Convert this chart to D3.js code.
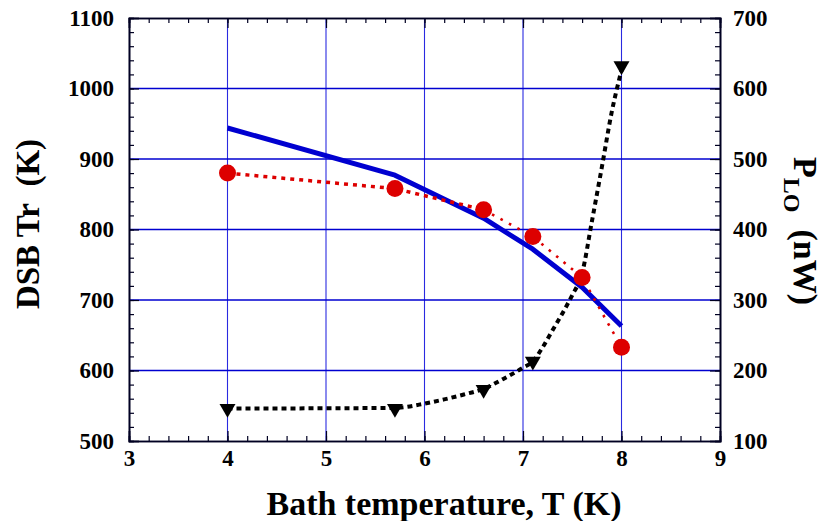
<!DOCTYPE html>
<html>
<head>
<meta charset="utf-8">
<script src="https://cdn.jsdelivr.net/npm/d3@7"></script>
</head>
<body style="margin:0">
<svg id="chart" width="823" height="521" style="display:block"></svg>
<script>
// ---- data ----
const xTicks = [3, 4, 5, 6, 7, 8, 9];
const leftTicks = [500, 600, 700, 800, 900, 1000, 1100];
const rightTicks = [100, 200, 300, 400, 500, 600, 700];
const gridX = [4, 5, 6, 7, 8];
const gridY = [600, 700, 800, 900, 1000];

// DSB Tr model (blue solid line), left axis
const modelT  = [4.0, 5.7, 6.6, 7.1, 7.6, 8.0];
const modelTr = [944, 877, 816, 772, 718, 663];

// DSB Tr measured (red circles, dotted), left axis
const measT  = [4.0, 5.7, 6.6, 7.1, 7.6, 8.0];
const measTr = [880, 858, 828, 790, 732, 633];

// P_LO (black triangles), right axis
const ploT = [4.0, 5.7, 6.6, 7.1, 8.0];
const ploP = [146, 146, 173, 213, 632];

// P_LO fitted curve (black dotted), right axis
const ploFitT = [4.0, 5.7, 6.0, 6.2, 6.4, 6.6, 6.8, 7.0, 7.1, 7.2, 7.3, 7.4, 7.5, 7.6, 7.7, 7.8, 7.9, 8.0];
const ploFitP = [146, 147, 153, 159, 166, 174, 188, 204, 213, 233, 257, 281, 307, 338, 412, 488, 566, 626];

// ---- layout ----
const FONT = '"Times New Roman"';
const svg = d3.select("#chart");
const L = 129, R = 720, T = 18, B = 441;

const x = d3.scaleLinear().domain([3, 9]).range([L, R]);
const yL = d3.scaleLinear().domain([500, 1100]).range([B, T]);
const yR = d3.scaleLinear().domain([100, 700]).range([B, T]);

const gridColor = "#0000d0";
const axisColor = "#000022";

// gridlines
svg.append("g").selectAll("line").data(gridX).join("line")
  .attr("x1", d => x(d)).attr("x2", d => x(d))
  .attr("y1", T).attr("y2", B)
  .attr("stroke", "#2a2ae0").attr("stroke-width", 1.1);
svg.append("g").selectAll("line").data(gridY).join("line")
  .attr("x1", L).attr("x2", R)
  .attr("y1", d => yL(d)).attr("y2", d => yL(d))
  .attr("stroke", gridColor).attr("stroke-width", 1.4);

// axes (ticks inward)
function styleAxis(g) {
  g.attr("font-family", null).attr("font-size", null);
  g.select(".domain").attr("stroke", axisColor).attr("stroke-width", 1.6);
  g.selectAll(".tick line").attr("stroke", axisColor).attr("stroke-width", 1.2);
  g.selectAll("text")
    .style("font-family", FONT).style("font-weight", "bold")
    .style("font-size", "23px").attr("fill", "#000");
}
const minorX = d3.range(3, 9.001, 0.2);
const minorY = d3.range(500, 1100.1, 20);
const minorYR = d3.range(100, 700.1, 20);

// bottom
svg.append("g").attr("transform", `translate(0,${B})`)
  .call(d3.axisBottom(x).tickValues(minorX).tickSize(-5).tickFormat(""))
  .call(styleAxis);
svg.append("g").attr("transform", `translate(0,${B})`)
  .call(d3.axisBottom(x).tickValues(xTicks).tickSize(-10).tickPadding(9).tickFormat(d3.format("d")))
  .call(styleAxis);
// top
svg.append("g").attr("transform", `translate(0,${T})`)
  .call(d3.axisTop(x).tickValues(minorX).tickSize(-5).tickFormat(""))
  .call(styleAxis);
svg.append("g").attr("transform", `translate(0,${T})`)
  .call(d3.axisTop(x).tickValues(xTicks).tickSize(-10).tickFormat(""))
  .call(styleAxis);
// left
svg.append("g").attr("transform", `translate(${L},0)`)
  .call(d3.axisLeft(yL).tickValues(minorY).tickSize(-5).tickFormat(""))
  .call(styleAxis);
svg.append("g").attr("transform", `translate(${L},0)`)
  .call(d3.axisLeft(yL).tickValues(leftTicks).tickSize(-10).tickPadding(15).tickFormat(d3.format("d")))
  .call(styleAxis);
// right
svg.append("g").attr("transform", `translate(${R},0)`)
  .call(d3.axisRight(yR).tickValues(minorYR).tickSize(-5).tickFormat(""))
  .call(styleAxis);
svg.append("g").attr("transform", `translate(${R},0)`)
  .call(d3.axisRight(yR).tickValues(rightTicks).tickSize(-10).tickPadding(13).tickFormat(d3.format("d")))
  .call(styleAxis);

// blue model line
const blueLine = d3.line().x((d, i) => x(modelT[i])).y(d => yL(d));
svg.append("path").datum(modelTr)
  .attr("d", blueLine).attr("fill", "none")
  .attr("stroke", "#0000d0").attr("stroke-width", 5).attr("stroke-linejoin", "round");

// red measured dotted line (two segments with different dot sizes)
const redLine = d3.line().x(d => x(d[0])).y(d => yL(d[1]));
const redPts = measT.map((t, i) => [t, measTr[i]]);
svg.append("path").datum(redPts.slice(0, 3))
  .attr("d", redLine).attr("fill", "none")
  .attr("stroke", "#dd0000").attr("stroke-width", 3.5).attr("stroke-dasharray", "4,5");
svg.append("path").datum(redPts.slice(2))
  .attr("d", redLine).attr("fill", "none")
  .attr("stroke", "#dd0000").attr("stroke-width", 2.6).attr("stroke-dasharray", "2.6,7");

// black P_LO fit curve
const blackLine = d3.line().x((d, i) => x(ploFitT[i])).y(d => yR(d)).curve(d3.curveMonotoneX);
svg.append("path").datum(ploFitP)
  .attr("d", blackLine).attr("fill", "none")
  .attr("stroke", "#000").attr("stroke-width", 4).attr("stroke-dasharray", "5,4");

// triangles
const tri = d3.symbol().type(d3.symbolTriangle).size(110);
svg.append("g").selectAll("path").data(ploP).join("path")
  .attr("d", tri)
  .attr("transform", (d, i) => `translate(${x(ploT[i])},${yR(d)}) rotate(180)`)
  .attr("fill", "#000");

// red circles
svg.append("g").selectAll("circle").data(measTr).join("circle")
  .attr("cx", (d, i) => x(measT[i])).attr("cy", d => yL(d))
  .attr("r", 8.5).attr("fill", "#dd0000");

// axis titles
function titleStyle(sel, size) {
  return sel.style("font-family", FONT).style("font-weight", "bold")
    .style("font-size", size + "px").attr("fill", "#000");
}
svg.append("text")
  .attr("x", 444).attr("y", 515)
  .attr("text-anchor", "middle")
  .call(titleStyle, 34)
  .text("Bath temperature, T (K)");

svg.append("text")
  .attr("transform", `translate(39,224) rotate(-90)`)
  .attr("text-anchor", "middle")
  .call(titleStyle, 33)
  .text("DSB Tr\u00a0\u00a0(K)");

const rt = svg.append("text")
  .attr("transform", `translate(794,231) rotate(90)`)
  .attr("text-anchor", "middle")
  .call(titleStyle, 34);
rt.append("tspan").text("P");
rt.append("tspan").style("font-size", "24px").attr("dy", 10).text("LO");
rt.append("tspan").attr("dy", -10).text("\u00a0\u00a0(nW)");
</script>
</body>
</html>
